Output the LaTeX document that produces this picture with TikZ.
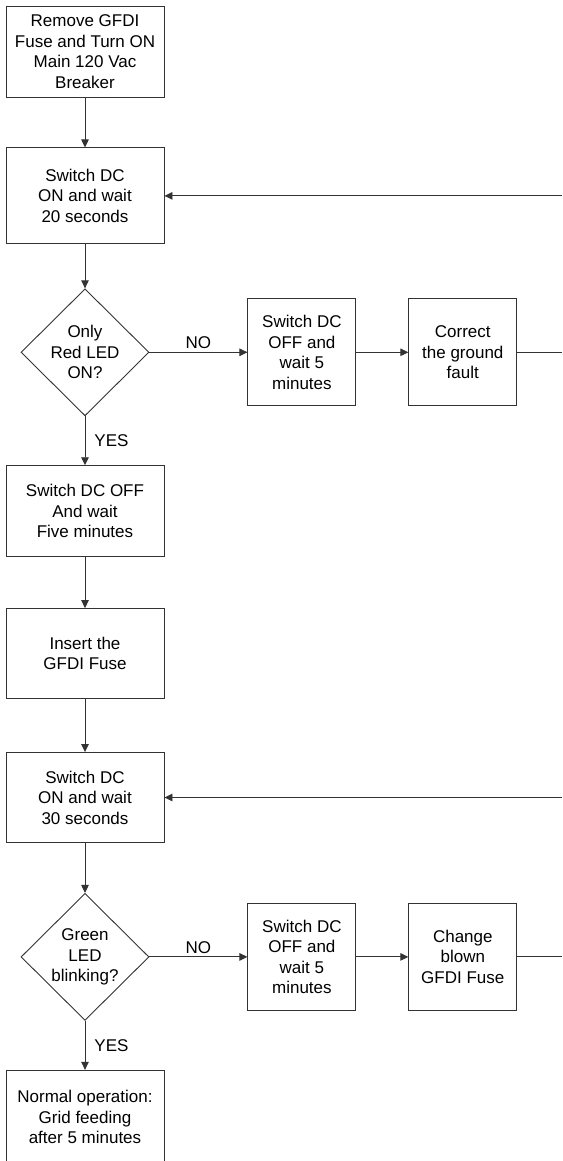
\documentclass[tikz,border=0pt]{standalone}
\usepackage{fontspec}
\setmainfont{Liberation Sans}
\usetikzlibrary{arrows.meta,positioning,shapes.geometric}

\begin{document}
\begin{tikzpicture}[
  x=1pt, y=1pt,
  font=\fontsize{17}{20.5}\selectfont,
  st/.style={draw=black!80, line width=0.9pt, align=center, inner sep=2pt,
             minimum width=158pt},
  sm/.style={st, minimum width=108pt, minimum height=107pt},
  dec/.style={diamond, draw=black!80, line width=0.9pt, align=center, inner sep=0pt,
              minimum width=128pt, minimum height=127pt},
  lbl/.style={inner sep=2pt},
  arr/.style={-{Triangle[length=8pt, width=7.5pt]}, draw=black!80, line width=0.9pt},
  ln/.style={draw=black!80, line width=0.9pt},
]
\useasboundingbox (0,0) rectangle (562,-1161);
\clip (0,0) rectangle (562,-1161);

% The main column, top to bottom.
\node[st, minimum height=91pt] (start) at (85,-51.5) {Remove GFDI\\Fuse and Turn ON\\Main 120 Vac\\Breaker};
\node[st, minimum height=96pt, below=50pt of start] (on1) {Switch DC\\ON and wait\\20 seconds};
\node[dec, below=44pt of on1] (red) {Only\\Red LED\\ON?};
\node[st, minimum height=91pt, below=49pt of red] (off2) {Switch DC OFF\\And wait\\Five minutes};
\node[st, minimum height=90pt, below=51pt of off2] (fuse) {Insert the\\GFDI Fuse};
\node[st, minimum height=90pt, below=53pt of fuse] (on2) {Switch DC\\ON and wait\\30 seconds};
\node[dec, below=50pt of on2] (grn) {Green\\LED\\blinking?};
\node[st, minimum height=94pt, below=49pt of grn] (run) {Normal operation:\\Grid feeding\\after 5 minutes};

% The two NO branches.
\node[sm, right=98pt of red] (off1) {Switch DC\\OFF and\\wait 5\\minutes};
\node[sm, right=52pt of off1] (fix) {Correct\\the ground\\fault};
\node[sm, right=98pt of grn] (off3) {Switch DC\\OFF and\\wait 5\\minutes};
\node[sm, right=52pt of off3] (chg) {Change\\blown\\GFDI Fuse};

% Loose ends at the right edge.
\coordinate (edge) at (562,0);
\coordinate (out1) at (edge |- fix.east);
\coordinate (back1) at (edge |- on1.east);
\coordinate (out2) at (edge |- chg.east);
\coordinate (back2) at (edge |- on2.east);

\draw[arr] (start) -- (on1);
\draw[arr] (on1) -- (red);
\draw[arr] (red) -- node[lbl, right=7pt]{YES} (off2);
\draw[arr] (off2) -- (fuse);
\draw[arr] (fuse) -- (on2);
\draw[arr] (on2) -- (grn);
\draw[arr] (grn) -- node[lbl, right=7pt]{YES} (run);

\draw[arr] (red) -- node[lbl, above=1pt]{NO} (off1);
\draw[arr] (off1) -- (fix);
\draw[ln] (fix) -- (out1);
\draw[arr] (back1) -- (on1);

\draw[arr] (grn) -- node[lbl, above=1pt]{NO} (off3);
\draw[arr] (off3) -- (chg);
\draw[ln] (chg) -- (out2);
\draw[arr] (back2) -- (on2);

\end{tikzpicture}
\end{document}
